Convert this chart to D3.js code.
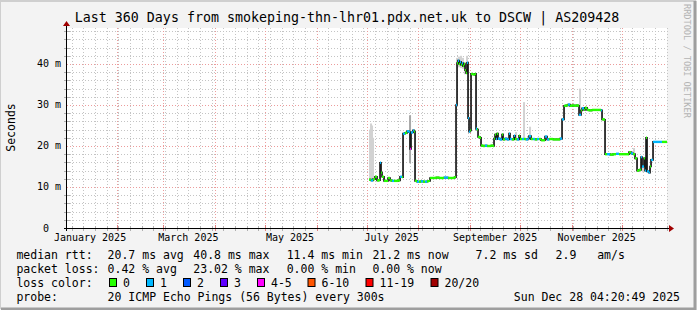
<!DOCTYPE html>
<html>
<head>
<meta charset="utf-8">
<script src="https://cdn.jsdelivr.net/npm/d3@7"></script>
<style>
    body { margin: 0; background: #f3f3f3; }
    svg text { font-family: 'DejaVu Sans Mono', monospace; white-space: pre; }
</style>
</head>
<body>
<script>
'use strict';

var title = 'Last 360 Days from smokeping-thn-lhr01.pdx.net.uk to DSCW | AS209428';
var yTicks = [0, 10, 20, 30, 40];
var yTickLabels = ['0  ', '10 m', '20 m', '30 m', '40 m'];
var monthLabels = ['January 2025', 'March 2025', 'May 2025', 'July 2025', 'September 2025', 'November 2025'];

var lossLabels = ['0', '1', '2', '3', '4-5', '6-10', '11-19', '20/20'];
var lossColors = ['#26ff00', '#00b8ff', '#0059ff', '#5e00ff', '#ff00ff', '#ff5500', '#ff0000', '#a00000'];

var rttStats = ['20.7 ms avg', '40.8 ms max', '11.4 ms min', '21.2 ms now', '7.2 ms sd', '2.9   am/s'];
var lossStats = ['0.42 % avg', '23.02 % max', '0.00 % min', '0.00 % now'];
var probeText = '20 ICMP Echo Pings (56 Bytes) every 300s';
var stampText = 'Sun Dec 28 04:20:49 2025';

// day of year 2025 (0 = Jan 1 00:00 UTC), median rtt in ms, loss bucket index
var days = [182.4, 183.6, 184.8, 186.0, 187.2, 188.4, 189.0, 189.6, 190.2, 191.4, 192.6, 193.8,
    195.0, 196.2, 197.4, 198.6, 199.8, 201.0, 202.2, 202.8, 204.0, 205.2, 206.4, 207.0, 207.6,
    208.8, 209.4, 210.0, 211.2, 212.4, 213.6, 214.8, 216.0, 217.2, 218.4, 219.0, 220.8, 222.6,
    224.4, 226.2, 227.4, 228.6, 229.8, 231.6, 233.4, 234.0, 234.6, 235.2, 235.8, 236.4, 237.0,
    237.6, 238.2, 238.8, 239.4, 240.0, 240.6, 241.2, 241.8, 242.4, 243.0, 243.6, 244.2, 245.4,
    246.0, 246.6, 247.2, 247.8, 249.0, 249.6, 250.8, 252.0, 253.2, 254.4, 255.6, 256.8, 257.4,
    258.0, 258.6, 259.2, 259.8, 261.0, 262.2, 262.8, 264.0, 265.2, 266.4, 267.0, 268.2, 269.4,
    270.0, 271.2, 272.4, 273.0, 274.2, 275.4, 276.6, 277.8, 278.4, 279.6, 280.8, 282.0, 283.2,
    284.4, 285.6, 286.8, 288.0, 289.2, 290.4, 291.6, 292.8, 294.0, 295.2, 297.0, 298.2, 299.4,
    300.6, 301.8, 303.0, 304.2, 305.4, 306.6, 307.8, 308.4, 309.6, 310.2, 311.4, 312.0, 313.2,
    314.4, 316.2, 318.0, 319.8, 321.6, 322.2, 323.4, 324.0, 325.2, 327.0, 328.8, 330.6, 332.4,
    334.2, 336.0, 337.8, 338.4, 339.6, 340.8, 342.0, 343.2, 344.4, 345.6, 346.2, 347.4, 348.0,
    348.6, 349.2, 350.4, 351.0, 351.6, 352.8, 354.6, 356.4, 358.2, 360.0];
var median = [11.8, 11.6, 11.9, 12.5, 11.6, 11.7, 15.9, 13.5, 12.5, 11.5, 11.5, 12.2,
    11.6, 11.5, 11.5, 11.5, 11.6, 12.5, 12.4, 23.0, 23.2, 23.6, 23.4, 19.3, 23.3,
    23.8, 23.5, 11.5, 11.3, 11.3, 11.4, 11.3, 11.3, 11.4, 11.5, 12.2, 12.2, 12.3,
    12.2, 12.2, 12.3, 12.3, 12.2, 12.2, 12.3, 12.4, 30.0, 40.2, 40.8, 40.0, 40.5,
    39.8, 40.2, 39.5, 40.0, 38.5, 37.8, 40.3, 26.8, 23.5, 23.8, 37.6, 37.5, 37.4,
    37.6, 24.2, 24.0, 22.2, 22.0, 20.1, 20.0, 20.1, 20.0, 20.0, 20.1, 20.0, 21.8,
    22.8, 21.7, 23.0, 21.8, 21.6, 22.8, 21.6, 21.8, 21.6, 23.0, 21.7, 21.6, 22.5,
    21.7, 21.6, 22.5, 21.7, 21.7, 21.7, 21.6, 21.8, 22.4, 21.7, 21.7, 21.6, 21.7,
    21.7, 21.4, 21.4, 22.3, 21.6, 21.7, 21.7, 21.6, 21.6, 21.6, 21.8, 26.5, 29.8,
    29.9, 30.1, 29.8, 29.9, 29.8, 29.9, 29.8, 27.6, 28.7, 29.2, 28.8, 29.3, 28.8,
    28.7, 28.8, 28.8, 28.8, 28.7, 26.5, 26.4, 18.0, 18.0, 17.9, 18.0, 18.1, 18.0,
    18.0, 18.0, 18.0, 18.5, 18.2, 18.0, 17.0, 14.0, 14.2, 17.3, 15.0, 17.0, 14.0,
    22.0, 13.8, 13.5, 15.0, 16.6, 21.0, 21.0, 21.0, 21.0, 21.0];
var loss = [0, 1, 0, 0, 0, 0, 1, 0, 0, 0, 0, 0,
    0, 1, 0, 0, 0, 1, 0, 1, 0, 1, 1, 4, 1,
    1, 0, 0, 1, 0, 1, 0, 1, 0, 0, 0, 0, 0,
    0, 0, 1, 1, 0, 0, 0, 0, 1, 0, 1, 0, 1,
    0, 1, 0, 0, 0, 0, 1, 1, 1, 0, 0, 0, 0,
    0, 1, 0, 0, 0, 0, 0, 1, 0, 0, 0, 0, 0,
    0, 1, 0, 1, 1, 0, 0, 1, 1, 1, 1, 0, 1,
    0, 1, 0, 0, 1, 0, 1, 1, 1, 0, 1, 0, 1,
    0, 0, 0, 1, 1, 0, 0, 0, 0, 0, 1, 1, 0,
    0, 1, 0, 0, 0, 0, 0, 1, 0, 1, 0, 0, 0,
    0, 0, 0, 0, 1, 0, 0, 0, 1, 0, 0, 1, 0,
    0, 0, 0, 0, 1, 0, 0, 0, 0, 1, 1, 0, 1,
    0, 1, 1, 0, 1, 1, 1, 1, 0, 0];

// smoke (spread of the pings): day, low, high in ms
var smokeDays = [183.0, 183.6, 184.2, 184.8, 207.0, 235.2, 236.4, 237.6, 238.8, 240.0, 241.2,
    270.6, 275.4, 279.0, 309.0, 341.4, 346.8];
var smokeLo = [12.0, 12.0, 12.0, 12.0, 15.8, 39.5, 39.2, 39.0, 38.8, 37.5, 39.0,
    21.7, 21.7, 21.7, 28.5, 18.0, 13.6];
var smokeHi = [24.0, 25.5, 25.0, 22.0, 27.5, 41.5, 41.8, 42.0, 41.5, 40.5, 42.0,
    23.4, 30.7, 24.7, 34.0, 19.5, 17.0];

var width = 697;
var height = 310;
var t0 = Date.UTC(2025, 0, 1);
function dayDate(d) { return new Date(t0 + d * 864e5); }

var start = dayDate(1.18);
var end = dayDate(361.18);

var x = d3.scaleUtc().domain([start, end]).range([67, 667]);
var y = d3.scaleLinear().domain([0, 48.78]).range([228, 28]);

var svg = d3.select('body').append('svg')
    .attr('width', width)
    .attr('height', height);

// frame
svg.append('rect').attr('width', width).attr('height', height).attr('fill', '#f3f3f3');
svg.append('path').attr('d', 'M0,309V1H696').attr('fill', 'none')
    .attr('stroke', '#cfcfcf').attr('stroke-width', 2);
svg.append('path').attr('d', 'M1,309H695V1').attr('fill', 'none')
    .attr('stroke', '#9e9e9e').attr('stroke-width', 3);

svg.append('rect')
    .attr('x', x.range()[0]).attr('y', y.range()[1])
    .attr('width', x.range()[1] - x.range()[0])
    .attr('height', y.range()[0] - y.range()[1])
    .attr('fill', '#ffffff');

// grid
var grid = svg.append('g').attr('shape-rendering', 'crispEdges');
var weeks = d3.utcSunday.range(start, end);
var months = d3.utcMonth.range(start, end);
var minorY = d3.range(2, 49, 2).filter(function(v) { return v % 10 !== 0; });
var majorY = yTicks.filter(function(v) { return v > 0; });

grid.selectAll('.wk').data(weeks).enter().append('line')
    .attr('x1', function(d) { return Math.round(x(d)) + 0.5; })
    .attr('x2', function(d) { return Math.round(x(d)) + 0.5; })
    .attr('y1', y.range()[1]).attr('y2', y.range()[0])
    .attr('stroke', '#c4c4c4').attr('stroke-dasharray', '1,2');
grid.selectAll('.hy').data(minorY).enter().append('line')
    .attr('x1', x.range()[0]).attr('x2', x.range()[1])
    .attr('y1', function(d) { return Math.round(y(d)) + 0.5; })
    .attr('y2', function(d) { return Math.round(y(d)) + 0.5; })
    .attr('stroke', '#c4c4c4').attr('stroke-dasharray', '1,2');
grid.selectAll('.mo').data(months).enter().append('line')
    .attr('x1', function(d) { return Math.round(x(d)) + 0.5; })
    .attr('x2', function(d) { return Math.round(x(d)) + 0.5; })
    .attr('y1', y.range()[1]).attr('y2', y.range()[0])
    .attr('stroke', '#ec9c9c').attr('stroke-dasharray', '1,2');
grid.selectAll('.my').data(majorY).enter().append('line')
    .attr('x1', x.range()[0]).attr('x2', x.range()[1])
    .attr('y1', function(d) { return Math.round(y(d)) + 0.5; })
    .attr('y2', function(d) { return Math.round(y(d)) + 0.5; })
    .attr('stroke', '#ec9c9c').attr('stroke-dasharray', '1,2');

// smoke
svg.append('g').selectAll('rect')
    .data(smokeDays)
    .enter().append('rect')
    .attr('x', function(d) { return x(dayDate(d)) - 1; })
    .attr('width', 2)
    .attr('y', function(d, i) { return y(smokeHi[i]); })
    .attr('height', function(d, i) { return y(smokeLo[i]) - y(smokeHi[i]); })
    .attr('fill', function(d, i) { return i === 4 ? '#a8a8a8' : '#d2d2d2'; });

// median
var pts = days.map(function(d, i) {
    return { date: dayDate(d), next: dayDate(i < days.length - 1 ? days[i + 1] : d + 1.2), v: median[i], loss: loss[i] };
});

svg.append('path')
    .datum(pts.concat([{ date: pts[pts.length - 1].next, v: median[median.length - 1] }]))
    .attr('fill', 'none')
    .attr('stroke', '#1a1a1a')
    .attr('stroke-width', 1.7)
    .attr('d', d3.line()
        .x(function(d) { return x(d.date); })
        .y(function(d) { return y(d.v); })
        .curve(d3.curveStepAfter));

svg.append('g').selectAll('line')
    .data(pts)
    .enter().append('line')
    .attr('x1', function(d) { return x(d.date); })
    .attr('x2', function(d) { return x(d.next); })
    .attr('y1', function(d) { return y(d.v); })
    .attr('y2', function(d) { return y(d.v); })
    .attr('stroke', function(d) { return lossColors[d.loss]; })
    .attr('stroke-width', 2.4);

// axes
var axes = svg.append('g').attr('shape-rendering', 'crispEdges');
axes.selectAll('.tw').data(weeks).enter().append('line')
    .attr('x1', function(d) { return Math.round(x(d)) + 0.5; })
    .attr('x2', function(d) { return Math.round(x(d)) + 0.5; })
    .attr('y1', 226).attr('y2', 231).attr('stroke', '#b0b0b0');
axes.selectAll('.tm').data(months).enter().append('line')
    .attr('x1', function(d) { return Math.round(x(d)) + 0.5; })
    .attr('x2', function(d) { return Math.round(x(d)) + 0.5; })
    .attr('y1', 225).attr('y2', 231).attr('stroke', '#e08080');
axes.selectAll('.ty').data(minorY).enter().append('line')
    .attr('x1', 64).attr('x2', 70)
    .attr('y1', function(d) { return Math.round(y(d)) + 0.5; })
    .attr('y2', function(d) { return Math.round(y(d)) + 0.5; })
    .attr('stroke', '#b0b0b0');

axes.append('line').attr('x1', 64).attr('x2', 670).attr('y1', 228.5).attr('y2', 228.5).attr('stroke', '#000');
axes.append('line').attr('x1', 66.5).attr('x2', 66.5).attr('y1', 231).attr('y2', 25).attr('stroke', '#000');
svg.append('path').attr('d', 'M669,225L674,228.5L669,232Z').attr('fill', '#a00000');
svg.append('path').attr('d', 'M63,26L66.5,21L70,26Z').attr('fill', '#a00000');

// tick labels
svg.append('g').selectAll('text')
    .data(yTicks)
    .enter().append('text')
    .attr('x', 61)
    .attr('y', function(d) { return y(d) + 3.5; })
    .attr('text-anchor', 'end')
    .attr('font-size', '10px')
    .attr('fill', '#000')
    .text(function(d, i) { return yTickLabels[i]; });

svg.append('g').selectAll('text')
    .data(monthLabels)
    .enter().append('text')
    .attr('x', function(d, i) { return x(d3.utcDay.offset(d3.utcMonth.offset(dayDate(0), i * 2), 15)); })
    .attr('y', 241)
    .attr('text-anchor', 'middle')
    .attr('font-size', '10px')
    .attr('fill', '#000')
    .text(function(d) { return d; });

// titles
svg.append('text')
    .attr('x', 347).attr('y', 22)
    .attr('text-anchor', 'middle')
    .attr('font-size', '13.3px')
    .attr('fill', '#000')
    .text(title);

svg.append('text')
    .attr('transform', 'translate(14.5,127.5) rotate(-90)')
    .attr('text-anchor', 'middle')
    .attr('font-size', '11.5px')
    .attr('fill', '#000')
    .text('Seconds');

svg.append('text')
    .attr('transform', 'translate(684,4) rotate(90)')
    .attr('font-size', '8.6px')
    .attr('fill', '#b4b4b4')
    .text('RRDTOOL / TOBI OETIKER');

// legend
var legend = svg.append('g').attr('font-size', '11.5px').attr('fill', '#000');
var rowY = [259, 273, 287, 301];
var statX = [107.6, 193.3, 286.7, 372.4, 475.6, 555.6];

legend.append('text').attr('x', 16.4).attr('y', rowY[0]).text('median rtt:');
legend.selectAll('.rs').data(rttStats).enter().append('text')
    .attr('x', function(d, i) { return statX[i]; }).attr('y', rowY[0])
    .text(function(d) { return d; });

legend.append('text').attr('x', 16.4).attr('y', rowY[1]).text('packet loss:');
legend.selectAll('.ls').data(lossStats).enter().append('text')
    .attr('x', function(d, i) { return statX[i]; }).attr('y', rowY[1])
    .text(function(d) { return d; });

var boxX = [109, 146, 183, 220, 257, 307.5, 365.5, 430.5];
legend.append('text').attr('x', 16.4).attr('y', rowY[2]).text('loss color:');
legend.selectAll('.lb').data(lossColors).enter().append('rect')
    .attr('x', function(d, i) { return boxX[i] + 0.5; })
    .attr('y', rowY[2] - 8.5)
    .attr('width', 7).attr('height', 8)
    .attr('fill', function(d) { return d; })
    .attr('stroke', '#000').attr('stroke-width', 1);
legend.selectAll('.ll').data(lossLabels).enter().append('text')
    .attr('x', function(d, i) { return boxX[i] + 14; }).attr('y', rowY[2])
    .text(function(d) { return d; });

legend.append('text').attr('x', 16.4).attr('y', rowY[3]).text('probe:');
legend.append('text').attr('x', 107.6).attr('y', rowY[3]).text(probeText);
legend.append('text').attr('x', 680).attr('y', rowY[3]).attr('text-anchor', 'end').text(stampText);
</script>
</body>
</html>
